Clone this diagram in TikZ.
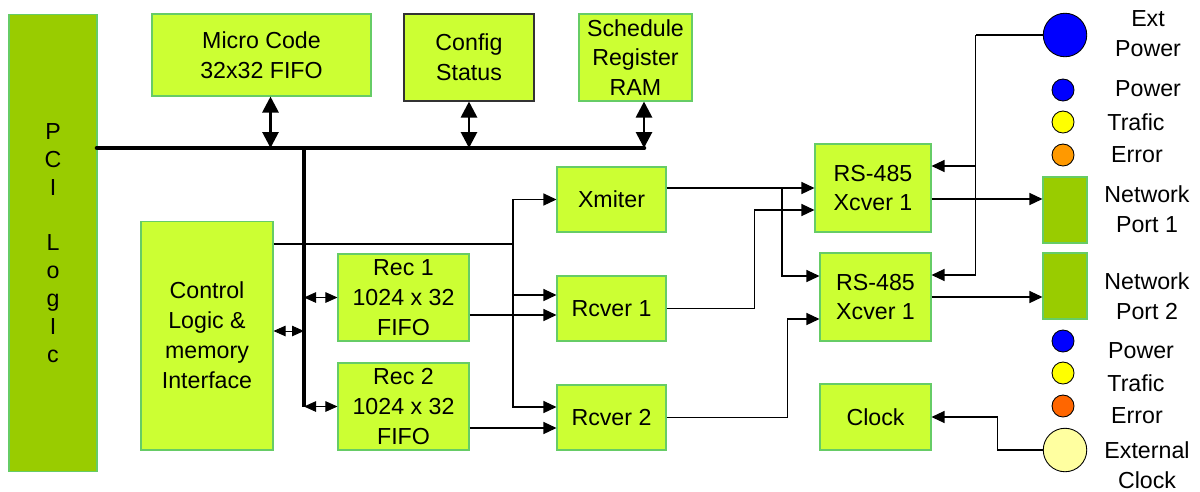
\documentclass[tikz,border=0pt]{standalone}
\usepackage{fontspec}
\setmainfont{Liberation Sans}
\usetikzlibrary{arrows.meta,positioning}
\definecolor{clime}{HTML}{CCFF33}
\definecolor{cedge}{HTML}{66CC66}
\definecolor{cdark}{HTML}{99CC00}
\definecolor{cblue}{HTML}{0000FF}
\definecolor{cyel}{HTML}{FFFF00}
\definecolor{corng}{HTML}{FF9900}
\definecolor{cred}{HTML}{FF6600}
\definecolor{ccream}{HTML}{FFFFA0}
\tikzset{>={Triangle[length=2.6mm,width=2.4mm]},
  bx/.style={draw=cedge,fill=clime,line width=0.6pt,align=center,inner sep=0pt,font=\fontsize{13.2}{17}\selectfont},
  prt/.style={draw=cedge,fill=cdark,line width=0.6pt,inner sep=0pt,minimum width=0.88cm,minimum height=1.32cm},
  led/.style={circle,draw=black,line width=0.5pt,inner sep=0pt,minimum size=0.44cm},
  bigled/.style={led,minimum size=0.87cm},
  lb/.style={align=center,inner sep=0pt,font=\fontsize{13.2}{17}\selectfont},
  wr/.style={line width=0.7pt},
  bus/.style={line width=2.6pt},
  dba/.style={line width=1.6pt,{Triangle[length=3.2mm,width=3.2mm]}-{Triangle[length=3.2mm,width=3.2mm]}},
  dbb/.style={line width=0.5pt,{Triangle[length=2.4mm,width=2.1mm]}-{Triangle[length=2.4mm,width=2.1mm]}}}

\begin{document}
\begin{tikzpicture}[x=0.02cm,y=-0.02cm]
\useasboundingbox (0,0) rectangle (1200,491);

% ---------- blocks ----------
\node[bx,fill=cdark,minimum width=1.76cm,minimum height=9.16cm,font=\fontsize{13.2}{15.9}\selectfont] (pci) at (53,243) {P\\C\\I\\[15.9pt]L\\o\\g\\I\\c};
\node[bx,minimum width=4.38cm,minimum height=1.64cm] (micro) at (261.5,55) {Micro Code\\32x32 FIFO};
\node[bx,draw=black!80,minimum width=2.6cm,minimum height=1.74cm] (cfg) at (469,57.5) {Config\\Status};
\node[bx,minimum width=2.26cm,minimum height=1.74cm] (sched) at (635.5,57.5) {Schedule\\Register\\RAM};
\node[bx,minimum width=2.64cm,minimum height=4.58cm] (ctrl) at (207,335.5) {Control\\Logic \&\\memory\\Interface};
\node[bx,minimum width=2.62cm,minimum height=1.74cm] (rec1) at (403.5,297.5) {Rec 1\\1024 x 32\\FIFO};
\node[bx,minimum width=2.62cm,minimum height=1.74cm] (rec2) at (403.5,406.5) {Rec 2\\1024 x 32\\FIFO};
\node[bx,minimum width=2.18cm,minimum height=1.3cm] (xmit) at (611.5,199.5) {Xmiter};
\node[bx,minimum width=2.18cm,minimum height=1.3cm] (rcv1) at (611.5,308.5) {Rcver 1};
\node[bx,minimum width=2.18cm,minimum height=1.3cm] (rcv2) at (611.5,417.5) {Rcver 2};
\node[bx,minimum width=2.32cm,minimum height=1.76cm] (rs1) at (873,188) {RS-485\\Xcver 1};
\node[bx,minimum width=2.22cm,minimum height=1.76cm] (rs2) at (875.5,297) {RS-485\\Xcver 1};
\node[bx,minimum width=2.22cm,minimum height=1.32cm] (clock) at (875.5,417) {Clock};
\node[prt] (net1) at (1065,210) {};
\node[prt] (net2) at (1065,286) {};

% ---------- indicators ----------
\node[bigled,fill=cblue] (extpw) at (1065,35) {};
\node[led,fill=cblue] (pw1) at (1063,90) {};
\node[led,fill=cyel] (tr1) at (1063,122) {};
\node[led,fill=corng] (er1) at (1063,155) {};
\node[led,fill=cblue] (pw2) at (1063,341) {};
\node[led,fill=cyel] (tr2) at (1063,373) {};
\node[led,fill=cred] (er2) at (1063,406) {};
\node[bigled,fill=ccream] (extclk) at (1065,450) {};

\node[lb] (lextpw) at (1148,34) {Ext\\Power};
\node[lb] (lpw1) at (1148,89) {Power};
\node[lb] (ltr1) at (1136,122) {Trafic};
\node[lb] (ler1) at (1137,155) {Error};
\node[lb] (lnet1) at (1147,209) {Network\\Port 1};
\node[lb] (lnet2) at (1147,296) {Network\\Port 2};
\node[lb] (lpw2) at (1141,351) {Power};
\node[lb] (ltr2) at (1136,383) {Trafic};
\node[lb] (ler2) at (1137,416) {Error};
\node[lb] (lextclk) at (1147,465) {External\\Clock};

% ---------- bus ----------
\coordinate (busL) at (97,148);
\coordinate (busR) at (644,148);
\coordinate (busT) at (304,148);
\coordinate (busB) at (304,407);
\draw[bus,line cap=round] (busL) -- (busR);
\draw[bus] (busT) -- (busB);
\draw[dba] ([xshift=0.18cm]micro.south) -- ([xshift=0.18cm]micro.south |- busL);
\draw[dba] (cfg.south) -- (cfg.south |- busL);
\draw[dba] (sched.south -| busR) -- (busR);
\draw[dbb] ([yshift=0.09cm]ctrl.east) -- ([yshift=0.09cm]ctrl.east -| busT);
\draw[dbb] (rec1.west -| busT) -- (rec1.west);
\draw[dbb] (rec2.west -| busT) -- (rec2.west);

% ---------- data paths ----------
\coordinate (spl) at (513,244);
\draw[wr] (spl -| ctrl.east) -- (spl);
\draw[wr,->] (spl) |- (xmit.west);
\draw[wr,->] (spl) |- ([yshift=0.27cm]rcv1.west);
\draw[wr,->] (spl) |- ([yshift=0.21cm]rcv2.west);
\draw[wr,->] ([yshift=-0.35cm]rec1.east) -- ([yshift=-0.35cm]rec1.east -| rcv1.west);
\draw[wr,->] ([yshift=-0.43cm]rec2.east) -- ([yshift=-0.43cm]rec2.east -| rcv2.west);

\coordinate (jx) at (782,188);
\draw[wr,->] (xmit.east |- rs1.west) -- (rs1.west);
\draw[wr,->] (jx) |- ([yshift=0.42cm]rs2.west);
\draw[wr,->] (rcv1.east) -- ++(88,0) |- ([yshift=-0.44cm]rs1.west);
\draw[wr,->] (rcv2.east) -- ++(121,0) |- ([yshift=-0.44cm]rs2.west);

\draw[wr] (extpw.west) -- ++(-67,0) coordinate (kp);
\draw[wr,->] (kp) |- ([yshift=0.44cm]rs1.east);
\draw[wr,->] (kp) |- ([yshift=0.44cm]rs2.east);
\draw[wr,->] ([yshift=-0.22cm]rs1.east) -- ([yshift=-0.22cm]rs1.east -| net1.west);
\draw[wr,->] (rs2.east) -- (rs2.east -| net2.west);
\draw[wr,->] (extclk.west) -- ++(-45,0) |- (clock.east);

\end{tikzpicture}
\end{document}
